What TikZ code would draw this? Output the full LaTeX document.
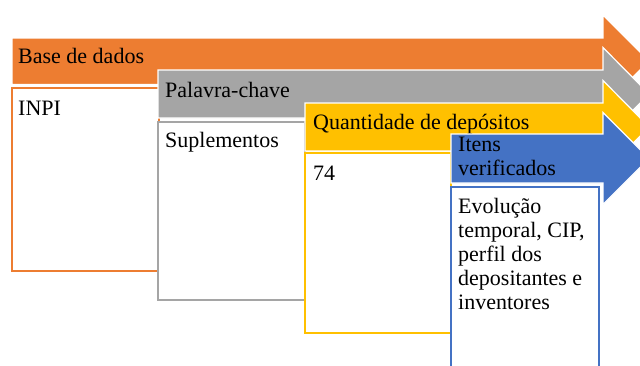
\documentclass[tikz,border=0pt]{standalone}
\usepackage{fontspec}
\setmainfont{Liberation Serif}
\usepackage{xcolor}
\definecolor{stageorange}{HTML}{ED7D31}
\definecolor{stagegray}{HTML}{A5A5A5}
\definecolor{stageyellow}{HTML}{FFC000}
\definecolor{stageblue}{HTML}{4472C4}

\begin{document}
\begin{tikzpicture}[x=1pt, y=-1pt,
    band/.style={draw=white, line width=1.2pt},
    stagebox/.style={fill=white, line width=1.5pt},
    lbl/.style={anchor=base west, inner sep=0pt, align=left, font=\fontsize{22}{24}\selectfont}]
      \useasboundingbox (0,0) rectangle (640,365);
      \clip (0,0) rectangle (640,365);

      % Base de dados
      \filldraw[band, fill=stageorange] (12,38) -- (603,38) -- (603,15) -- (649,61) -- (603,107) -- (603,84.5) -- (12,84.5) -- cycle;
      \draw[stagebox, draw=stageorange] (12,88) rectangle (159,271);
      \node[lbl] (base) at (18,63) {Base de dados};
      \node[lbl] (inpi) at (18,115) {INPI};

      % Palavra-chave
      \filldraw[band, fill=stagegray] (158,70) -- (603,70) -- (603,47.5) -- (649,94) -- (603,140.5) -- (603,118) -- (158,118) -- cycle;
      \draw[stagebox, draw=stagegray] (158,122) rectangle (305,300);
      \node[lbl] (palavra) at (165,97) {Palavra-chave};
      \node[lbl] (suple) at (165,147) {Suplementos};

      % Quantidade de depositos
      \filldraw[band, fill=stageyellow] (305,103) -- (603,103) -- (603,80.5) -- (649,127) -- (603,173.5) -- (603,151) -- (305,151) -- cycle;
      \draw[stagebox, draw=stageyellow] (305,153) rectangle (451,333);
      \node[lbl] (quant) at (313,129) {Quantidade de depósitos};
      \node[lbl] (n74) at (313,180) {74};

      % Itens verificados (base = last line)
      \filldraw[band, fill=stageblue] (451,134) -- (603,134) -- (603,112.5) -- (649,158.5) -- (603,204.5) -- (603,183) -- (451,183) -- cycle;
      \draw[stagebox, draw=stageblue] (451,187) rectangle (599,370);
      \node[lbl] (itens) at (458,175) {Itens\\verificados};
      \node[lbl] (evol) at (458,309) {Evolução\\temporal, CIP,\\perfil dos\\depositantes e\\inventores};
\end{tikzpicture}
\end{document}
